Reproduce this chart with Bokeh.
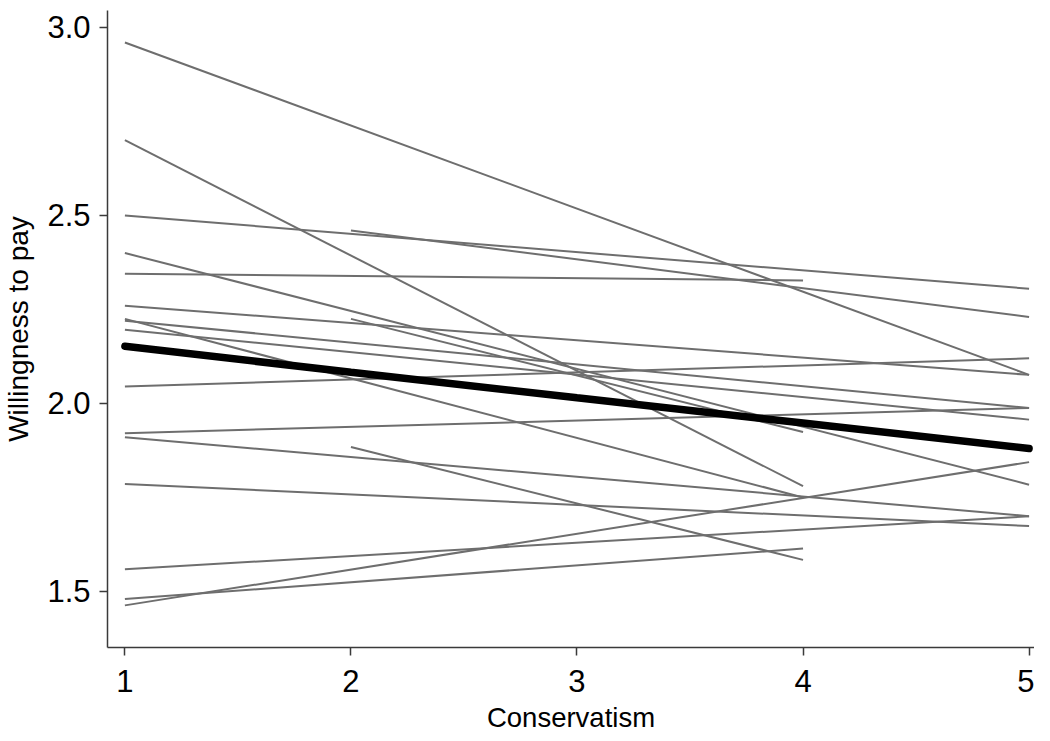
from bokeh.plotting import figure
from bokeh.models import ColumnDataSource, FixedTicker, PrintfTickFormatter, Range1d
from bokeh.embed import file_html
from bokeh.resources import INLINE

# Individual (group-level) predicted lines: start/end conservatism and willingness to pay
x_start = [1, 1, 1, 2, 1, 1, 1, 1, 1, 1, 2, 1, 1, 1, 1, 1, 1, 1, 2]
x_end   = [5, 4, 5, 5, 4, 5, 5, 4, 5, 5, 4, 5, 5, 5, 5, 5, 4, 5, 4]
y_start = [2.96, 2.70, 2.50, 2.46, 2.345, 2.40, 2.26, 2.225, 2.22, 2.196,
           2.225, 2.045, 1.921, 1.91, 1.786, 1.559, 1.48, 1.463, 1.884]
y_end   = [2.076, 1.78, 2.305, 2.23, 2.327, 1.784, 2.076, 1.75, 1.988, 1.957,
           1.924, 2.12, 1.988, 1.70, 1.674, 1.70, 1.614, 1.844, 1.584]

# Overall (fixed-effect) line
mean_x = [1, 2, 3, 4, 5]
mean_y = [2.152, 2.083, 2.015, 1.948, 1.880]

x_ticks = [1, 2, 3, 4, 5]
y_ticks = [1.5, 2.0, 2.5, 3.0]

FONT = "Liberation Sans"

p = figure(width=1034, height=735, output_backend="svg", toolbar_location=None,
           x_range=Range1d(0.923, 5.024), y_range=Range1d(1.351, 3.045),
           min_border_left=99, min_border_top=10, min_border_bottom=88, min_border_right=0)
p.outline_line_color = None
p.xgrid.visible = False
p.ygrid.visible = False
p.background_fill_color = "white"
p.border_fill_color = "white"

src = ColumnDataSource(dict(x0=x_start, x1=x_end, y0=y_start, y1=y_end))
p.segment(x0="x0", y0="y0", x1="x1", y1="y1", source=src,
          line_color="#6e6e6e", line_width=2)
p.line(mean_x, mean_y, line_color="black", line_width=7.5, line_cap="round")

for ax in (p.xaxis[0], p.yaxis[0]):
    ax.axis_line_color = "#3a3a3a"
    ax.axis_line_width = 1.5
    ax.major_tick_line_color = "#3a3a3a"
    ax.major_tick_line_width = 1.5
    ax.major_tick_out = 8
    ax.major_tick_in = 0
    ax.minor_tick_line_color = None
    ax.major_label_text_font = FONT
    ax.major_label_text_font_size = "31px"
    ax.major_label_text_color = "black"
    ax.axis_label_text_font = FONT
    ax.axis_label_text_font_size = "27.5px"
    ax.axis_label_text_font_style = "normal"
    ax.axis_label_text_color = "black"

p.yaxis[0].axis_label_text_font_size = "28px"
p.xaxis.ticker = FixedTicker(ticks=x_ticks)
p.yaxis.ticker = FixedTicker(ticks=y_ticks)
p.yaxis.formatter = PrintfTickFormatter(format="%.1f")
p.xaxis.axis_label = "Conservatism"
p.yaxis.axis_label = "Willingness to pay"
p.xaxis.major_label_standoff = 14
p.yaxis.major_label_standoff = 9
p.xaxis.axis_label_standoff = 7
p.yaxis.axis_label_standoff = 10

open("out.html", "w").write(file_html(p, INLINE))
